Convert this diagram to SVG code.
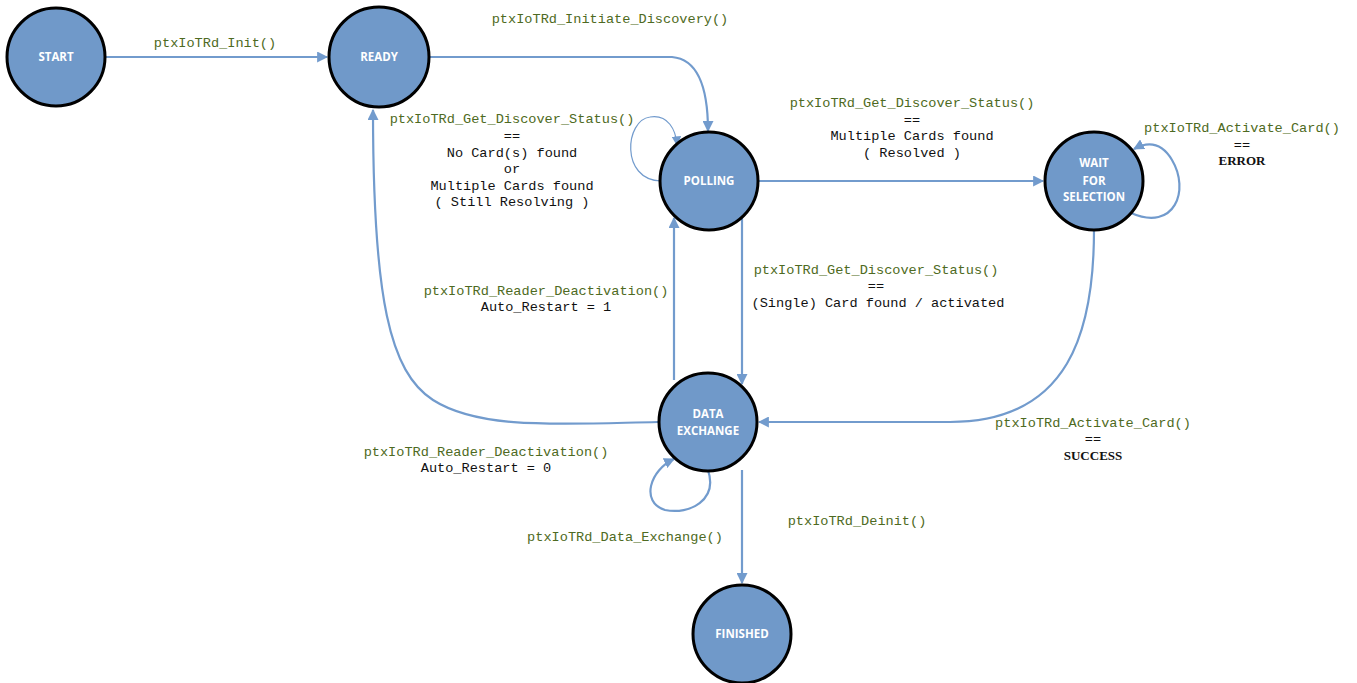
<svg xmlns="http://www.w3.org/2000/svg" width="1357" height="683" viewBox="0 0 1357 683">
<style>
.node circle{fill:#7099c9;stroke:#000;stroke-width:3}
.node text{font-family:"Open Sans","Liberation Sans",sans-serif;font-weight:bold;font-size:11.5px;fill:#fff;text-anchor:middle}
.edge{fill:none;stroke:#729bcd;stroke-width:2.2}
.thin{stroke-width:1.2}
.lbl{font-family:"Liberation Mono",monospace;font-size:13.6px;fill:#111;text-anchor:middle}
.fn{fill:#4e6a22}
.st{font-family:"Liberation Serif",serif;font-size:13px;font-weight:bold}
</style>
<defs>
<marker id="ah" viewBox="0 0 10 10" refX="9" refY="5" markerWidth="5" markerHeight="5" orient="auto" markerUnits="strokeWidth">
<path d="M0,0 L10,5 L0,10 z" fill="#729bcd"/>
</marker>
<marker id="ahs" viewBox="0 0 10 10" refX="9" refY="5" markerWidth="8" markerHeight="8" orient="auto" markerUnits="strokeWidth">
<path d="M0,0 L10,5 L0,10 z" fill="#729bcd"/>
</marker>
</defs>
<g id="connectors">
<path class="edge" d="M105,57 L327,57" marker-end="url(#ah)"/>
<path class="edge" d="M430,57 L672,57 Q708,60 708,131" marker-end="url(#ah)"/>
<path class="edge thin" d="M661,181 C620,180 625,120 650,117 C668,114 676,130 677,145" marker-end="url(#ahs)"/>
<path class="edge" d="M758,181 L1043,181" marker-end="url(#ah)"/>
<path class="edge" d="M1131,213 C1175,232 1190,190 1172,160 C1160,140 1145,143 1134,149" marker-end="url(#ah)"/>
<path class="edge" d="M742,216 L742,384" marker-end="url(#ah)"/>
<path class="edge" d="M674,380 L674,218" marker-end="url(#ah)"/>
<path class="edge" d="M658,422 C560,424 480,430 433,400 C390,372 373,300 373,110" marker-end="url(#ah)"/>
<path class="edge" d="M708,470 C718,500 690,515 665,510 C640,502 650,470 674,459" marker-end="url(#ah)"/>
<path class="edge" d="M1094,230 C1094,330 1070,422 950,422 L759,422" marker-end="url(#ah)"/>
<path class="edge" d="M742,470 L742,583" marker-end="url(#ah)"/>
</g>
<g id="start" class="node"><circle cx="56" cy="57" r="49"/><text x="56" y="61">START</text></g>
<g id="ready" class="node"><circle cx="379" cy="57" r="50"/><text x="379" y="61">READY</text></g>
<g id="polling" class="node"><circle cx="709" cy="181" r="49"/><text x="709" y="185">POLLING</text></g>
<g id="wait" class="node"><circle cx="1094" cy="181" r="49"/><text x="1094" y="167">WAIT</text><text x="1094" y="185">FOR</text><text x="1094" y="201">SELECTION</text></g>
<g id="data" class="node"><circle cx="708" cy="422" r="49"/><text x="708" y="418">DATA</text><text x="708" y="435">EXCHANGE</text></g>
<g id="finished" class="node"><circle cx="742" cy="634" r="49"/><text x="742" y="638">FINISHED</text></g>
<g id="labels">
<text class="lbl fn" x="215" y="47">ptxIoTRd_Init()</text>
<text class="lbl fn" x="610" y="23">ptxIoTRd_Initiate_Discovery()</text>
<text class="lbl fn" x="512" y="123">ptxIoTRd_Get_Discover_Status()</text>
<text class="lbl" x="512" y="140">==</text>
<text class="lbl" x="512" y="157">No Card(s) found</text>
<text class="lbl" x="512" y="173">or</text>
<text class="lbl" x="512" y="190">Multiple Cards found</text>
<text class="lbl" x="512" y="206"> ( Still Resolving )</text>
<text class="lbl fn" x="912" y="107">ptxIoTRd_Get_Discover_Status()</text>
<text class="lbl" x="912" y="124">==</text>
<text class="lbl" x="912" y="140">Multiple Cards found</text>
<text class="lbl" x="912" y="157">( Resolved )</text>
<text class="lbl fn" x="1242" y="132">ptxIoTRd_Activate_Card()</text>
<text class="lbl" x="1242" y="149">==</text>
<text class="lbl st" x="1242" y="165">ERROR</text>
<text class="lbl fn" x="876" y="274">ptxIoTRd_Get_Discover_Status()</text>
<text class="lbl" x="876" y="290">==</text>
<text class="lbl" x="878" y="307">(Single) Card found / activated</text>
<text class="lbl fn" x="546" y="295">ptxIoTRd_Reader_Deactivation()</text>
<text class="lbl" x="546" y="311">Auto_Restart = 1</text>
<text class="lbl fn" x="486" y="456">ptxIoTRd_Reader_Deactivation()</text>
<text class="lbl" x="486" y="472">Auto_Restart = 0</text>
<text class="lbl fn" x="625" y="541">ptxIoTRd_Data_Exchange()</text>
<text class="lbl fn" x="857" y="525">ptxIoTRd_Deinit()</text>
<text class="lbl fn" x="1093" y="427">ptxIoTRd_Activate_Card()</text>
<text class="lbl" x="1093" y="443">==</text>
<text class="lbl st" x="1093" y="460">SUCCESS</text>
</g>
</svg>
